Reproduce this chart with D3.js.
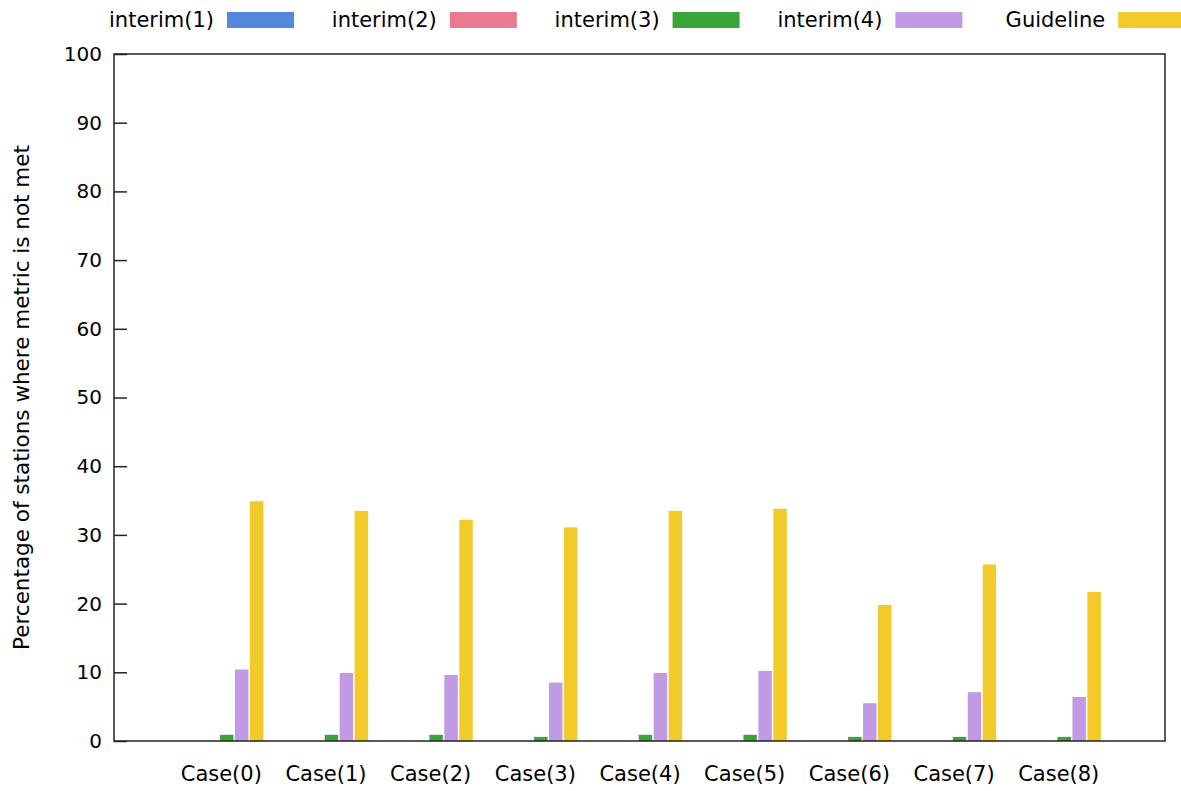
<!DOCTYPE html>
<html>
<head>
<meta charset="utf-8">
<script src="https://cdn.jsdelivr.net/npm/d3@7"></script>
<style>
  html, body { margin: 0; padding: 0; background: #fff; }
  svg { display: block; font-family: "DejaVu Sans", sans-serif; }
</style>
</head>
<body>
<svg id="chart" width="1181" height="791"></svg>
<script>
const categories = ["Case(0)", "Case(1)", "Case(2)", "Case(3)", "Case(4)", "Case(5)", "Case(6)", "Case(7)", "Case(8)"];
const seriesNames = ["interim(1)", "interim(2)", "interim(3)", "interim(4)", "Guideline"];
const interim1 = [0, 0, 0, 0, 0, 0, 0, 0, 0];
const interim2 = [0, 0, 0, 0, 0, 0, 0, 0, 0];
const interim3 = [0.9, 0.9, 0.9, 0.6, 0.9, 0.9, 0.6, 0.6, 0.6];
const interim4 = [10.4, 9.9, 9.6, 8.5, 9.9, 10.2, 5.5, 7.1, 6.4];
const guideline = [34.9, 33.5, 32.2, 31.1, 33.5, 33.8, 19.8, 25.7, 21.7];
const yTicks = [0, 10, 20, 30, 40, 50, 60, 70, 80, 90, 100];
const colors = ["#5289db", "#e87b91", "#3aa63a", "#c09ae2", "#f2ca2a"];
const yTitle = "Percentage of stations where metric is not met";

const series = [interim1, interim2, interim3, interim4, guideline];

const svg = d3.select("#chart");
const L = 114, R = 1165, T = 54, B = 741;

const x = d3.scaleLinear().domain([-1.02, categories.length + 0.02]).range([L, R]);
const y = d3.scaleLinear().domain([0, 100]).range([B, T]);
const unit = x(1) - x(0);
const bw = unit / 7;

// bars
series.forEach((vals, j) => {
  svg.append("g").selectAll("rect").data(vals).join("rect")
    .attr("x", (d, i) => x(i + (j - 1.6) / 7) - bw * 0.45)
    .attr("width", bw * 0.9)
    .attr("y", d => y(d))
    .attr("height", d => y(0) - y(d))
    .attr("fill", colors[j]);
});

// y axis
const yAxis = d3.axisLeft(y).tickValues(yTicks).tickSize(-13).tickPadding(12).tickSizeOuter(0);
const gy = svg.append("g").attr("transform", `translate(${L},0)`).call(yAxis);
gy.select(".domain").remove();
gy.selectAll(".tick line").attr("stroke", "#222").attr("stroke-width", 1.5);
gy.selectAll(".tick text").attr("font-size", 20).attr("fill", "#000")
  .attr("font-family", "DejaVu Sans, sans-serif").attr("x", -12);

// x axis labels
const xAxis = d3.axisBottom(x).tickValues(d3.range(categories.length))
  .tickFormat(i => categories[i]).tickSize(0).tickPadding(25);
const gx = svg.append("g").attr("transform", `translate(0,${B})`).call(xAxis);
gx.select(".domain").remove();
gx.selectAll(".tick text").attr("font-size", 21).attr("fill", "#000")
  .attr("font-family", "DejaVu Sans, sans-serif");

// border
svg.append("rect").attr("x", L).attr("y", T).attr("width", R - L).attr("height", B - T)
  .attr("fill", "none").attr("stroke", "#222").attr("stroke-width", 1.5);

// y title
svg.append("text")
  .attr("transform", `translate(29,${(T + B) / 2}) rotate(-90)`)
  .attr("text-anchor", "middle")
  .attr("font-size", 21.5)
  .text(yTitle);

// legend
const legendStart = 227, legendStep = 222.8;
seriesNames.forEach((name, j) => {
  const sx = legendStart + j * legendStep;
  svg.append("text").attr("x", sx - 13).attr("y", 20).attr("dy", "0.35em")
    .attr("text-anchor", "end").attr("font-size", 21).text(name);
  svg.append("rect").attr("x", sx).attr("y", 12).attr("width", 67).attr("height", 16)
    .attr("fill", colors[j]);
});
</script>
</body>
</html>
